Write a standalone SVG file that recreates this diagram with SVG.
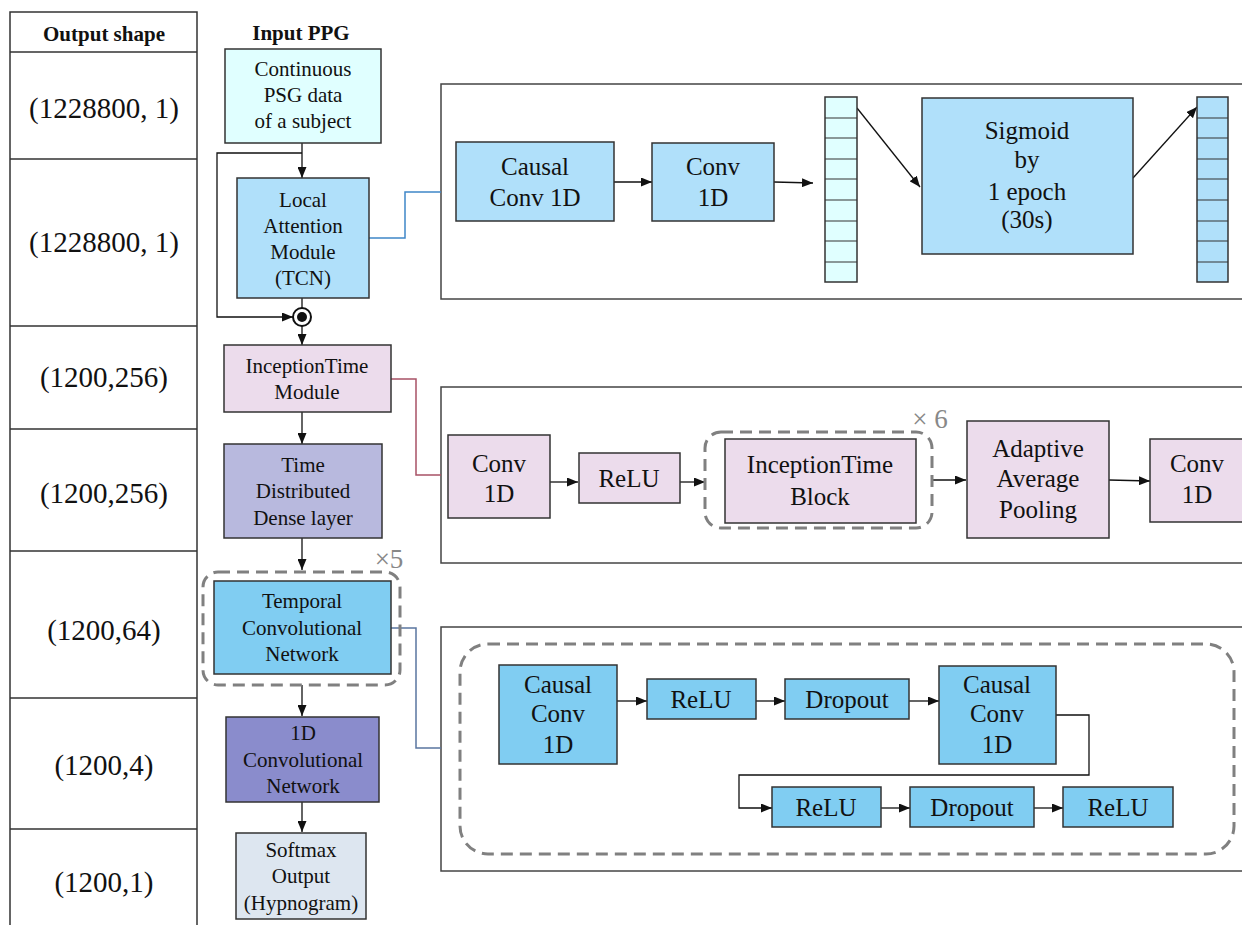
<svg xmlns="http://www.w3.org/2000/svg" width="1242" height="925" viewBox="0 0 1242 925">
<style>
text{font-family:"Liberation Serif","Times New Roman",serif;fill:#111;text-anchor:middle}
.hd{font-weight:bold;font-size:21px}
.sh{font-size:29px}
.l{font-size:21px}
.p{font-size:25px}
.gx{font-size:27px;fill:#888}
.bx{stroke:#333;stroke-width:1.5}
.panel{fill:#fff;stroke:#444;stroke-width:1.5}
.dash{fill:none;stroke:#808080;stroke-width:3;stroke-dasharray:12 7}
.c{fill:none;stroke:#111;stroke-width:1.3}
.cyan{fill:#e0ffff}.sky{fill:#b0e0fa}.tcn{fill:#80cdf2}.pink{fill:#ecdcec}.lav{fill:#b8b9de}.vio{fill:#8a8ccc}.sm{fill:#dde6f0}
.grid{stroke:#333;stroke-width:1.2}
</style>
<defs>
<marker id="ah" markerUnits="userSpaceOnUse" markerWidth="11" markerHeight="9" refX="11" refY="4.5" orient="auto"><path d="M0,0 L11,4.5 L0,9 z" fill="#111"/></marker>
</defs>
<rect width="1242" height="925" fill="#fff"/>

<g id="table">
<path d="M10,925 V12 H197 V925 M10,52 H197 M10,159 H197 M10,326 H197 M10,429 H197 M10,551 H197 M10,698 H197 M10,829 H197" fill="none" stroke="#333" stroke-width="1.5"/>
<text class="hd" x="104" y="41">Output shape</text>
<text class="sh" x="104" y="118">(1228800, 1)</text>
<text class="sh" x="104" y="252">(1228800, 1)</text>
<text class="sh" x="104" y="387">(1200,256)</text>
<text class="sh" x="104" y="503">(1200,256)</text>
<text class="sh" x="104" y="640">(1200,64)</text>
<text class="sh" x="104" y="775">(1200,4)</text>
<text class="sh" x="104" y="892">(1200,1)</text>
</g>

<g id="input-label"><text class="hd" x="301" y="40">Input PPG</text></g>

<g id="panel-top">
<rect class="panel" x="441" y="84" width="820" height="215"/>
</g>
<g id="panel-mid">
<rect class="panel" x="441" y="387" width="820" height="176"/>
</g>
<g id="panel-bot">
<rect class="panel" x="441" y="627" width="820" height="244"/>
</g>

<g id="connectors">
<path class="c" d="M302,143 V178" marker-end="url(#ah)"/>
<path class="c" d="M302,153 H217 V317 H293" marker-end="url(#ah)"/>
<path class="c" d="M302,298 V308"/>
<path class="c" d="M302,326 V345" marker-end="url(#ah)"/>
<path class="c" d="M302,412 V444" marker-end="url(#ah)"/>
<path class="c" d="M302,538 V570" marker-end="url(#ah)"/>
<path class="c" d="M302,685 V716" marker-end="url(#ah)"/>
<path class="c" d="M302,802 V832" marker-end="url(#ah)"/>
<path d="M369,238 H405 V192 H441" fill="none" stroke="#3f86c8" stroke-width="1.5"/>
<path d="M391,379 H416 V475 H441" fill="none" stroke="#a85266" stroke-width="1.5"/>
<path d="M391,628 H416 V748 H441" fill="none" stroke="#5a76a0" stroke-width="1.5"/>
<path class="c" d="M614,182 H652" marker-end="url(#ah)"/>
<path class="c" d="M774,182 L813,183" marker-end="url(#ah)"/>
<path class="c" d="M857,108 L920,187" marker-end="url(#ah)"/>
<path class="c" d="M1133,178 L1197,107" marker-end="url(#ah)"/>
<path class="c" d="M550,482 H578" marker-end="url(#ah)"/>
<path class="c" d="M680,482 H705" marker-end="url(#ah)"/>
<path class="c" d="M932,480 H966" marker-end="url(#ah)"/>
<path class="c" d="M1109,480 L1150,481" marker-end="url(#ah)"/>
<path class="c" d="M617,701 H647" marker-end="url(#ah)"/>
<path class="c" d="M756,701 H785" marker-end="url(#ah)"/>
<path class="c" d="M909,701 H939" marker-end="url(#ah)"/>
<path class="c" d="M1056,715 H1089 V775 H739 V808 H772" marker-end="url(#ah)"/>
<path class="c" d="M881,808 H910" marker-end="url(#ah)"/>
<path class="c" d="M1034,808 H1063" marker-end="url(#ah)"/>
</g>

<g id="n-continuous">
<rect class="bx cyan" x="225" y="49" width="156" height="94"/>
<text class="l" x="303" y="76">Continuous</text>
<text class="l" x="303" y="102">PSG data</text>
<text class="l" x="303" y="128">of a subject</text>
</g>
<g id="n-local-attention">
<rect class="bx sky" x="237" y="178" width="132" height="120"/>
<text class="l" x="303" y="207">Local</text>
<text class="l" x="303" y="233">Attention</text>
<text class="l" x="303" y="259">Module</text>
<text class="l" x="303" y="285">(TCN)</text>
</g>
<g id="n-mult">
<circle cx="302" cy="317" r="9" fill="#fff" stroke="#111" stroke-width="2"/>
<circle cx="302" cy="317" r="5" fill="#111"/>
</g>
<g id="n-inception-module">
<rect class="bx pink" x="224" y="345" width="167" height="67"/>
<text class="l" x="307" y="373">InceptionTime</text>
<text class="l" x="307" y="399">Module</text>
</g>
<g id="n-time-distributed">
<rect class="bx lav" x="224" y="444" width="158" height="94"/>
<text class="l" x="303" y="472">Time</text>
<text class="l" x="303" y="498">Distributed</text>
<text class="l" x="303" y="525">Dense layer</text>
</g>
<g id="n-tcn">
<rect class="dash" x="203" y="572" width="197" height="113" rx="15"/>
<text class="gx" x="389" y="568">×5</text>
<rect class="bx tcn" x="214" y="581" width="177" height="93"/>
<text class="l" x="302" y="608">Temporal</text>
<text class="l" x="302" y="635">Convolutional</text>
<text class="l" x="302" y="661">Network</text>
</g>
<g id="n-1dconv">
<rect class="bx vio" x="226" y="717" width="153" height="85"/>
<text class="l" x="303" y="740">1D</text>
<text class="l" x="303" y="767">Convolutional</text>
<text class="l" x="303" y="793">Network</text>
</g>
<g id="n-softmax">
<rect class="bx sm" x="236" y="833" width="130" height="86"/>
<text class="l" x="301" y="857">Softmax</text>
<text class="l" x="301" y="883">Output</text>
<text class="l" x="301" y="910">(Hypnogram)</text>
</g>

<g id="t-causal">
<rect class="bx sky" x="456" y="142" width="158" height="79"/>
<text class="p" x="535" y="175">Causal</text>
<text class="p" x="535" y="206">Conv 1D</text>
</g>
<g id="t-conv">
<rect class="bx sky" x="652" y="143" width="122" height="78"/>
<text class="p" x="713" y="175">Conv</text>
<text class="p" x="713" y="206">1D</text>
</g>
<g id="t-vec1">
<rect class="bx cyan" x="825" y="97" width="32" height="185"/>
<path class="grid" d="M825,118 H857 M825,138 H857 M825,159 H857 M825,179 H857 M825,200 H857 M825,221 H857 M825,241 H857 M825,262 H857"/>
</g>
<g id="t-sigmoid">
<rect class="bx sky" x="922" y="98" width="211" height="156"/>
<text class="p" x="1027" y="139">Sigmoid</text>
<text class="p" x="1027" y="168">by</text>
<text class="p" x="1027" y="200">1 epoch</text>
<text class="p" x="1027" y="228">(30s)</text>
</g>
<g id="t-vec2">
<rect class="bx sky" x="1197" y="97" width="31" height="185"/>
<path class="grid" d="M1197,118 H1228 M1197,138 H1228 M1197,159 H1228 M1197,179 H1228 M1197,200 H1228 M1197,221 H1228 M1197,241 H1228 M1197,262 H1228"/>
</g>

<g id="m-conv">
<rect class="bx pink" x="448" y="435" width="102" height="83"/>
<text class="p" x="499" y="472">Conv</text>
<text class="p" x="499" y="502">1D</text>
</g>
<g id="m-relu">
<rect class="bx pink" x="579" y="453" width="101" height="50"/>
<text class="p" x="629" y="487">ReLU</text>
</g>
<g id="m-block">
<rect class="dash" x="705" y="432" width="227" height="96" rx="16"/>
<text class="gx" x="930" y="428">× 6</text>
<rect class="bx pink" x="725" y="439" width="191" height="84"/>
<text class="p" x="820" y="473">InceptionTime</text>
<text class="p" x="820" y="505">Block</text>
</g>
<g id="m-pool">
<rect class="bx pink" x="967" y="421" width="142" height="117"/>
<text class="p" x="1038" y="457">Adaptive</text>
<text class="p" x="1038" y="487">Average</text>
<text class="p" x="1038" y="518">Pooling</text>
</g>
<g id="m-conv2">
<rect class="bx pink" x="1150" y="439" width="100" height="83"/>
<text class="p" x="1197" y="472">Conv</text>
<text class="p" x="1197" y="503">1D</text>
</g>

<g id="b-residual">
<rect class="dash" x="460" y="644" width="774" height="210" rx="28"/>
</g>
<g id="b-causal1">
<rect class="bx tcn" x="499" y="665" width="118" height="99"/>
<text class="p" x="558" y="693">Causal</text>
<text class="p" x="558" y="722">Conv</text>
<text class="p" x="558" y="753">1D</text>
</g>
<g id="b-relu1">
<rect class="bx tcn" x="647" y="679" width="109" height="40"/>
<text class="p" x="701" y="708">ReLU</text>
</g>
<g id="b-drop1">
<rect class="bx tcn" x="785" y="679" width="124" height="40"/>
<text class="p" x="847" y="708">Dropout</text>
</g>
<g id="b-causal2">
<rect class="bx tcn" x="939" y="666" width="117" height="98"/>
<text class="p" x="997" y="693">Causal</text>
<text class="p" x="997" y="722">Conv</text>
<text class="p" x="997" y="753">1D</text>
</g>
<g id="b-relu2">
<rect class="bx tcn" x="772" y="787" width="109" height="40"/>
<text class="p" x="826" y="816">ReLU</text>
</g>
<g id="b-drop2">
<rect class="bx tcn" x="910" y="787" width="124" height="40"/>
<text class="p" x="972" y="816">Dropout</text>
</g>
<g id="b-relu3">
<rect class="bx tcn" x="1063" y="787" width="110" height="40"/>
<text class="p" x="1118" y="816">ReLU</text>
</g>
</svg>
